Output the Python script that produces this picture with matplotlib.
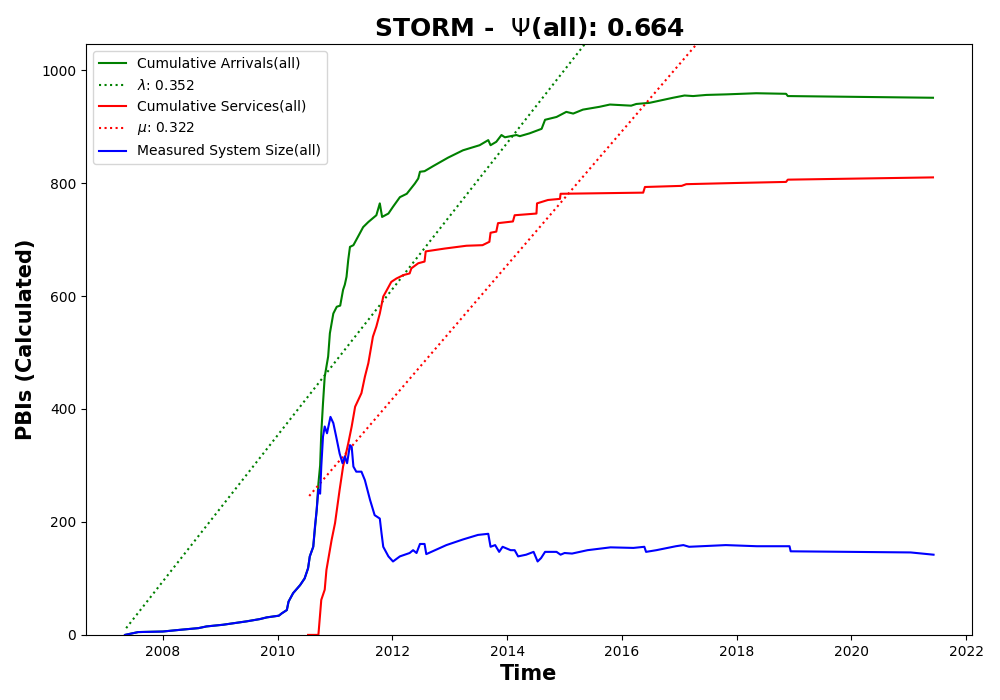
import matplotlib
matplotlib.use("Agg")
import matplotlib.pyplot as plt

# cumulative arrivals (decimal year, count)
arr_t = [2007.34, 2007.57, 2008.0, 2008.30, 2008.62, 2008.76, 2009.05, 2009.46, 2009.69,
         2009.81, 2010.02, 2010.07, 2010.16, 2010.19, 2010.27, 2010.39, 2010.47, 2010.53,
         2010.56, 2010.62, 2010.68, 2010.71, 2010.74, 2010.76, 2010.79, 2010.82, 2010.88,
         2010.91, 2010.97, 2011.03, 2011.09, 2011.14, 2011.17, 2011.20, 2011.23, 2011.26,
         2011.32, 2011.40, 2011.49, 2011.58, 2011.72, 2011.78, 2011.82, 2011.93, 2012.01,
         2012.13, 2012.25, 2012.39, 2012.45, 2012.48, 2012.56, 2012.71, 2012.97, 2013.23,
         2013.52, 2013.67, 2013.71, 2013.81, 2013.90, 2013.96, 2014.16, 2014.22, 2014.39,
         2014.60, 2014.66, 2014.86, 2015.03, 2015.15, 2015.32, 2015.61, 2015.79, 2016.16,
         2016.25, 2016.48, 2016.89, 2017.09, 2017.24, 2017.47, 2017.82, 2018.34, 2018.86,
         2018.89, 2021.42]
arr_v = [0, 5, 6, 9, 12, 15, 18, 24, 28,
         31, 34, 38, 44, 59, 74, 88, 100, 118,
         139, 156, 221, 268, 300, 357, 410, 457, 493,
         534, 569, 581, 583, 611, 620, 634, 664, 687,
         690, 705, 722, 731, 743, 764, 740, 746, 758,
         775, 781, 799, 808, 820, 821, 830, 845, 858,
         867, 876, 867, 873, 885, 881, 885, 883, 888,
         896, 912, 917, 926, 923, 930, 935, 939, 937,
         940, 942, 951, 955, 954, 956, 957, 959, 958,
         954, 951]

# cumulative services
srv_t = [2010.53, 2010.71, 2010.76, 2010.82, 2010.85, 2010.94, 2011.00, 2011.08, 2011.14,
         2011.23, 2011.29, 2011.35, 2011.46, 2011.52, 2011.58, 2011.66, 2011.72, 2011.78,
         2011.84, 2011.90, 2011.98, 2012.07, 2012.19, 2012.30, 2012.33, 2012.45, 2012.56,
         2012.58, 2012.91, 2013.29, 2013.57, 2013.69, 2013.71, 2013.81, 2013.84, 2014.10,
         2014.13, 2014.51, 2014.52, 2014.71, 2014.92, 2014.93, 2016.37, 2016.40, 2017.04,
         2017.12, 2017.94, 2018.86, 2018.89, 2021.42]
srv_v = [0, 0, 62, 80, 115, 168, 198, 257, 298,
         339, 369, 404, 428, 457, 481, 528, 546, 569,
         599, 610, 625, 631, 637, 640, 649, 658, 661,
         679, 684, 689, 690, 696, 712, 714, 729, 732,
         743, 746, 764, 770, 772, 781, 783, 793, 795,
         798, 800, 802, 806, 810]

# measured system size
size_t = [2007.34, 2007.57, 2008.0, 2008.30, 2008.62, 2008.76, 2009.05, 2009.46, 2009.69,
          2009.81, 2010.02, 2010.07, 2010.16, 2010.19, 2010.27, 2010.39, 2010.47, 2010.53,
          2010.56, 2010.62, 2010.65, 2010.68, 2010.71, 2010.74, 2010.76, 2010.79, 2010.82,
          2010.86, 2010.92, 2010.97, 2011.02, 2011.08, 2011.13, 2011.17, 2011.21, 2011.26,
          2011.29, 2011.32, 2011.37, 2011.46, 2011.52, 2011.61, 2011.69, 2011.78, 2011.81,
          2011.84, 2011.93, 2012.01, 2012.13, 2012.30, 2012.36, 2012.42, 2012.48, 2012.56,
          2012.59, 2012.94, 2013.23, 2013.49, 2013.67, 2013.71, 2013.79, 2013.86, 2013.92,
          2014.06, 2014.13, 2014.19, 2014.33, 2014.46, 2014.53, 2014.59, 2014.66, 2014.86,
          2014.93, 2015.0, 2015.13, 2015.40, 2015.80, 2016.20, 2016.39, 2016.42, 2016.60,
          2016.94, 2017.07, 2017.17, 2017.81, 2018.35, 2018.92, 2018.94, 2021.03, 2021.43]
size_v = [0, 5, 6, 9, 12, 15, 18, 24, 28,
          31, 34, 38, 44, 59, 74, 88, 100, 118,
          139, 156, 192, 221, 257, 250, 298, 351, 369,
          357, 386, 375, 351, 321, 304, 316, 304, 336,
          333, 298, 289, 289, 274, 239, 212, 206, 180,
          156, 139, 130, 139, 145, 150, 145, 161, 161,
          143, 159, 169, 177, 179, 156, 159, 147, 156,
          150, 150, 139, 142, 147, 130, 136, 147, 147,
          142, 145, 144, 150, 155, 154, 156, 147, 150,
          157, 159, 156, 159, 157, 157, 148, 146, 142]

# fitted rate lines (lambda = arrivals, mu = services)
lam_t = [2007.36, 2021.42]
lam_v = [12, 1831]
mu_t = [2010.55, 2021.42]
mu_v = [246, 1534]

fig, ax = plt.subplots(figsize=(10, 7), dpi=100)
fig.subplots_adjust(left=0.086, right=0.972, top=0.937, bottom=0.093)

ax.plot(arr_t, arr_v, color="green", linewidth=1.5, label="Cumulative Arrivals(all)")
ax.plot(lam_t, lam_v, color="green", linestyle=":", linewidth=1.5, label=r"$\lambda$: 0.352")
ax.plot(srv_t, srv_v, color="red", linewidth=1.5, label="Cumulative Services(all)")
ax.plot(mu_t, mu_v, color="red", linestyle=":", linewidth=1.5, label=r"$\mu$: 0.322")
ax.plot(size_t, size_v, color="blue", linewidth=1.5, label="Measured System Size(all)")

ax.set_xlim(2006.66, 2022.1)
ax.set_ylim(0, 1046)
ax.set_xticks([2008, 2010, 2012, 2014, 2016, 2018, 2020, 2022])
ax.set_xticklabels(["2008", "2010", "2012", "2014", "2016", "2018", "2020", "2022"])

ax.set_title(r"STORM -  $\Psi$(all): 0.664", fontsize=18, fontweight="bold")
ax.set_xlabel("Time", fontsize=15, fontweight="bold")
ax.set_ylabel("PBIs (Calculated)", fontsize=15, fontweight="bold")
ax.legend(loc="upper left")

fig.savefig("out.png")
